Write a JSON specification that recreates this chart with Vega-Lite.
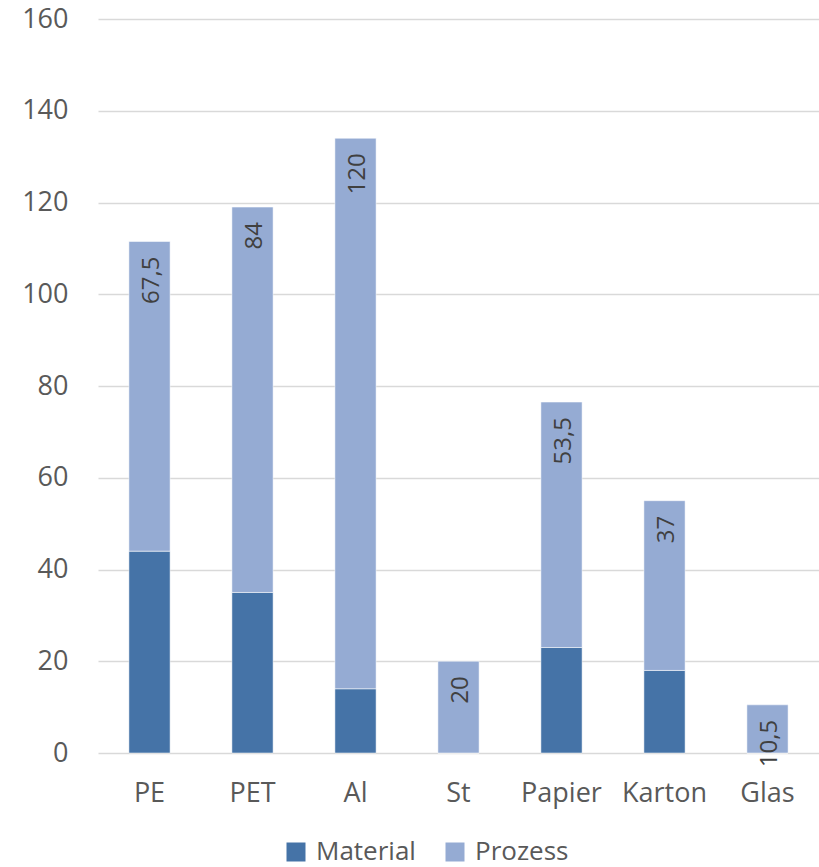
{
  "$schema": "https://vega.github.io/schema/vega-lite/v6.json",
  "autosize": "none",
  "width": 721,
  "height": 734,
  "padding": {"left": 98, "top": 19, "right": 0, "bottom": 114},
  "background": "#ffffff",
  "config": {
    "view": {"stroke": null},
    "font": "Open Sans"
  },
  "data": {
    "values": [
      {"cat": "PE", "part": "Material", "value": 44, "label": ""},
      {"cat": "PE", "part": "Prozess", "value": 67.5, "label": "67,5"},
      {"cat": "PET", "part": "Material", "value": 35, "label": ""},
      {"cat": "PET", "part": "Prozess", "value": 84, "label": "84"},
      {"cat": "Al", "part": "Material", "value": 14, "label": ""},
      {"cat": "Al", "part": "Prozess", "value": 120, "label": "120"},
      {"cat": "St", "part": "Material", "value": 0, "label": ""},
      {"cat": "St", "part": "Prozess", "value": 20, "label": "20"},
      {"cat": "Papier", "part": "Material", "value": 23, "label": ""},
      {"cat": "Papier", "part": "Prozess", "value": 53.5, "label": "53,5"},
      {"cat": "Karton", "part": "Material", "value": 18, "label": ""},
      {"cat": "Karton", "part": "Prozess", "value": 37, "label": "37"},
      {"cat": "Glas", "part": "Material", "value": 0, "label": ""},
      {"cat": "Glas", "part": "Prozess", "value": 10.5, "label": "10,5"}
    ]
  },
  "encoding": {
    "x": {
      "field": "cat",
      "type": "nominal",
      "sort": ["PE", "PET", "Al", "St", "Papier", "Karton", "Glas"],
      "scale": {"paddingInner": 0.6, "paddingOuter": 0.3},
      "axis": {
        "title": null,
        "labelAngle": 0,
        "domain": false,
        "ticks": false,
        "labelFontSize": 27,
        "labelColor": "#595959",
        "labelPadding": 27
      }
    },
    "y": {
      "field": "value",
      "type": "quantitative",
      "stack": "zero",
      "scale": {"domain": [0, 160], "nice": false},
      "axis": {
        "title": null,
        "values": [0, 20, 40, 60, 80, 100, 120, 140, 160],
        "domain": false,
        "ticks": false,
        "labelFontSize": 27,
        "labelColor": "#595959",
        "labelPadding": 30,
        "gridColor": "#d9d9d9",
        "gridWidth": 1.5
      }
    }
  },
  "layer": [
    {
      "mark": {"type": "bar", "stroke": "#ffffff", "strokeWidth": 1, "strokeOpacity": 0.5},
      "encoding": {
        "color": {
          "field": "part",
          "type": "nominal",
          "scale": {"domain": ["Material", "Prozess"], "range": ["#4573a7", "#95abd3"]},
          "legend": {
            "title": null,
            "orient": "none",
            "direction": "horizontal",
            "legendX": 185,
            "legendY": 820,
            "padding": 0,
            "symbolType": "square",
            "symbolSize": 361,
            "symbolStrokeWidth": 0,
            "symbolOpacity": 1,
            "labelFontSize": 26,
            "labelColor": "#595959",
            "labelOffset": 7,
            "columnPadding": 26
          }
        },
        "order": {"field": "part", "type": "ordinal"}
      }
    },
    {
      "mark": {"type": "text", "angle": 270, "align": "right", "baseline": "middle", "dx": -15, "dy": 2, "fontSize": 24, "color": "#404040"},
      "encoding": {
        "text": {"field": "label", "type": "nominal"},
        "detail": {"field": "part", "type": "nominal"},
        "order": {"field": "part", "type": "ordinal"}
      }
    }
  ]
}
